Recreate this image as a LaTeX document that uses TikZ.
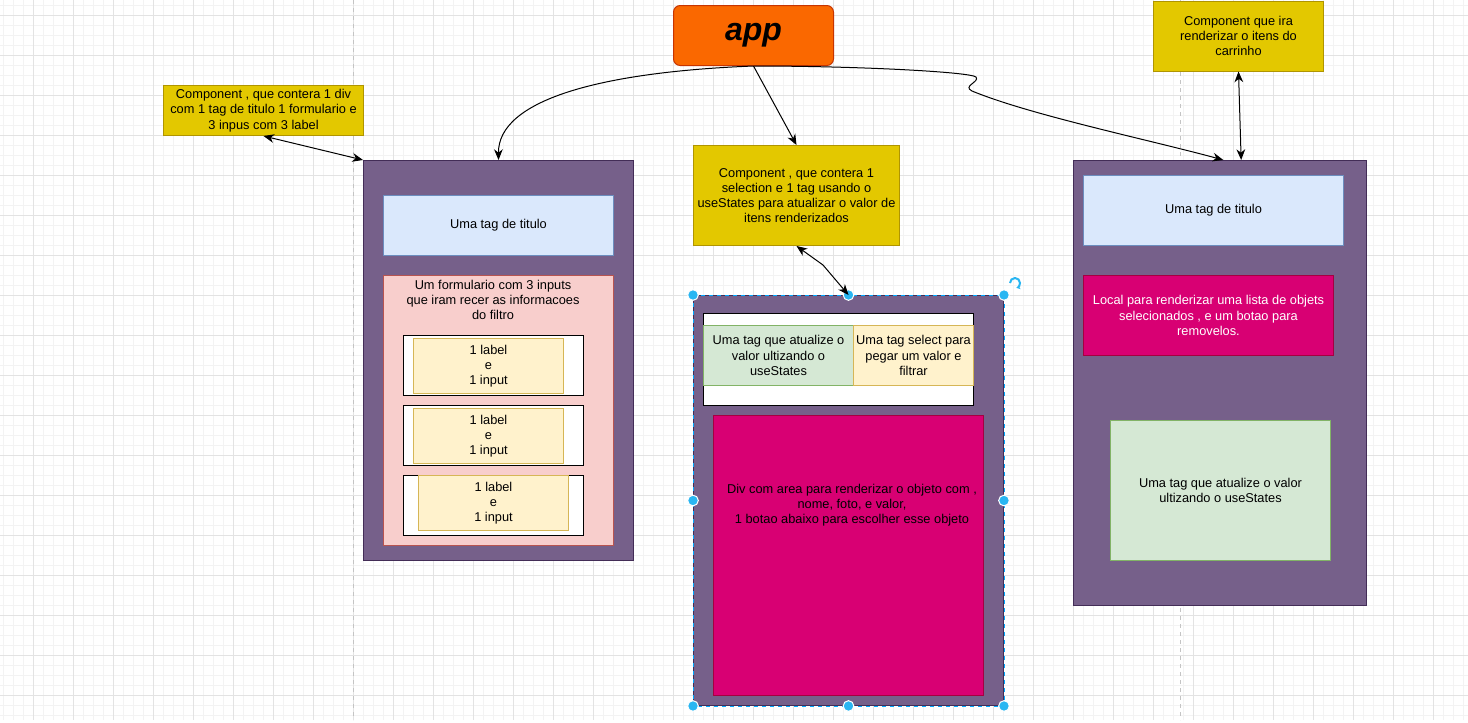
\documentclass[tikz,border=0pt]{standalone}
\usepackage{fontspec}
\setmainfont{Liberation Sans}
\usetikzlibrary{arrows.meta,calc}
\definecolor{gridmajor}{HTML}{E3E3E3}
\definecolor{gridminor}{HTML}{F3F3F3}
\definecolor{pagebrk}{HTML}{C4C4C4}
\definecolor{yelfill}{HTML}{E3C800}
\definecolor{yelline}{HTML}{B09500}
\definecolor{orafill}{HTML}{FA6800}
\definecolor{oraline}{HTML}{C73500}
\definecolor{purfill}{HTML}{76608A}
\definecolor{purline}{HTML}{432D57}
\definecolor{bluefill}{HTML}{DAE8FC}
\definecolor{blueline}{HTML}{6C8EBF}
\definecolor{redfill}{HTML}{F8CECC}
\definecolor{redline}{HTML}{B85450}
\definecolor{creamfill}{HTML}{FFF2CC}
\definecolor{creamline}{HTML}{D6B656}
\definecolor{greenfill}{HTML}{D5E8D4}
\definecolor{greenline}{HTML}{82B366}
\definecolor{magfill}{HTML}{D80073}
\definecolor{magline}{HTML}{A50040}
\definecolor{handlecol}{HTML}{29B6F2}
\definecolor{selblue}{HTML}{00A8FF}
\begin{document}
\begin{tikzpicture}[x=0.75pt,y=-0.75pt,
  wh/.style 2 args={minimum width=#1*0.75pt, minimum height=#2*0.75pt},
  box/.style={rectangle, draw, line width=0.75pt, inner sep=0pt, anchor=north west,
    font=\fontsize{9.6}{11.4}\selectfont, align=center},
  txt/.style={inner sep=0pt, font=\fontsize{9.6}{11.4}\selectfont, align=center},
  yel/.style={box, fill=yelfill, draw=yelline},
  pur/.style={box, fill=purfill, draw=purline},
  blu/.style={box, fill=bluefill, draw=blueline},
  red/.style={box, fill=redfill, draw=redline},
  crm/.style={box, fill=creamfill, draw=creamline},
  grn/.style={box, fill=greenfill, draw=greenline},
  mag/.style={box, fill=magfill, draw=magline},
  wht/.style={box, fill=white, draw=black},
  conn/.style={line width=0.75pt, -{Stealth[length=8pt,width=6.5pt,inset=2.5pt]}},
  biconn/.style={line width=0.75pt, {Stealth[length=8pt,width=6.5pt,inset=2.5pt]}-{Stealth[length=8pt,width=6.5pt,inset=2.5pt]}},
  handle/.style={circle, fill=handlecol, draw=white, line width=0.75pt, minimum size=8pt, inner sep=0pt},
  minorgrid/.style={gridminor, line width=0.75pt},
  majorgrid/.style={gridmajor, line width=0.75pt},
  pagebreak/.style={pagebrk, line width=0.75pt, dash pattern=on 3pt off 3pt}
]
\useasboundingbox (0,0) rectangle (1468,722);
\fill[white] (0,0) rectangle (1468,722);
% grid
\foreach \i in {0,...,146} \draw[minorgrid] ({3.33+10*\i},0) -- ({3.33+10*\i},720);
\foreach \j in {0,...,71} \draw[minorgrid] (0,{5+10*\j}) -- (1468,{5+10*\j});
\foreach \i in {0,...,36} \draw[majorgrid] ({33.33+40*\i},0) -- ({33.33+40*\i},720);
\foreach \j in {0,...,17} \draw[majorgrid] (0,{15+40*\j}) -- (1468,{15+40*\j});
\draw[pagebreak] (353.3,0) -- (353.3,720);
\draw[pagebreak] (1180,0) -- (1180,720);

% app
\node[box, wh={160}{60}, fill=orafill, draw=oraline, rounded corners=5pt,
  font=\fontsize{24}{28}\selectfont\bfseries\itshape] (app) at (673,5) {app};

% left column
\node[yel, wh={200}{50}] (lyel) at (163,85) {Component , que contera 1 div\\com 1 tag de titulo 1 formulario e\\3 inpus com 3 label};
\node[pur, wh={270}{400}] (lcont) at (363,160) {};
\node[blu, wh={230}{60}] (ltitle) at (383,195) {Uma tag de titulo};
\node[red, wh={230}{270}] (lform) at (383,275) {};
\node[txt] (lformtxt) at (493,300) {Um formulario com 3 inputs\\que iram recer as informacoes\\do filtro};
\node[wht, wh={180}{60}] (w1) at (403,335) {};
\node[crm, wh={150}{55}] (c1) at (413,338) {1 label\\e\\1 input};
\node[wht, wh={180}{60}] (w2) at (403,405) {};
\node[crm, wh={150}{55}] (c2) at (413,408) {1 label\\e\\1 input};
\node[wht, wh={180}{60}] (w3) at (403,475) {};
\node[crm, wh={150}{55}] (c3) at (418,475) {1 label\\e\\1 input};

% middle column
\node[yel, wh={206}{100}] (myel) at (693,145) {Component , que contera 1\\selection e 1 tag usando o\\useStates para atualizar o valor de\\itens renderizados};
\node[pur, wh={310}{410}] (mcont) at (693,295) {};
\node[wht, wh={270}{92}] (mwhite) at (703,313) {};
\node[grn, wh={150}{60}] (mgreen) at (703,325) {Uma tag que atualize o\\valor ultizando o\\useStates};
\node[crm, wh={120}{60}] (mcream) at (853,325) {Uma tag select para\\pegar um valor e\\filtrar};
\node[mag, wh={270}{280}] (mmag) at (713,415) {};
\node[txt] (mmagtxt) at (852,505) {Div com area para renderizar o objeto com ,\\nome, foto, e valor,\\1 botao abaixo para escolher esse objeto};

% right column
\node[yel, wh={170}{70}] (ryel) at (1153,0.5) {Component que ira\\renderizar o itens do\\carrinho};
\node[pur, wh={293}{445}] (rcont) at (1073,160) {};
\node[blu, wh={260}{70}] (rtitle) at (1083,175) {Uma tag de titulo};
\node[mag, wh={250}{80}, text=white] (rmag) at (1083,275) {Local para renderizar uma lista de objets\\selecionados , e um botao para\\removelos.};
\node[grn, wh={220}{140}] (rgreen) at (1110,420) {Uma tag que atualize o valor\\ultizando o useStates};

% selection of middle container
\draw[selblue, line width=0.75pt, dash pattern=on 3pt off 3pt] (mcont.north west) rectangle (mcont.south east);
\node[handle] (h1) at (mcont.north west) {};
\node[handle] (h2) at (mcont.north) {};
\node[handle] (h3) at (mcont.north east) {};
\node[handle] (h4) at (mcont.west) {};
\node[handle] (h5) at (mcont.east) {};
\node[handle] (h6) at (mcont.south west) {};
\node[handle] (h7) at (mcont.south) {};
\node[handle] (h8) at (mcont.south east) {};
\coordinate (rot) at (1015,283);
\draw[handlecol, line width=1.5pt, -{Stealth[length=3pt,width=3.6pt]}] ($(rot)+(-5,0)$) arc[start angle=180, end angle=-75, radius=3.75pt];

% connectors
\draw[biconn] (lyel.south) -- (lcont.north west);
\draw[conn] (app.south) .. controls (600,72) and (498,100) .. (lcont.north);
\draw[conn] (app.south) -- (myel.north);
\draw[conn] (app.south) .. controls (860,66) and (970,72) .. (976,77) .. controls (980,82) and (962,86) .. (972,91) .. controls (1030,115) and (1150,140) .. ([xshift=2.5pt]rcont.north);
\draw[biconn] (ryel.south) -- ([xshift=2pt]ryel.south |- rcont.north);
\coordinate (mbend) at (823,265);
\draw[biconn] (myel.south) -- (mbend) -- (mcont.north);
\end{tikzpicture}
\end{document}
